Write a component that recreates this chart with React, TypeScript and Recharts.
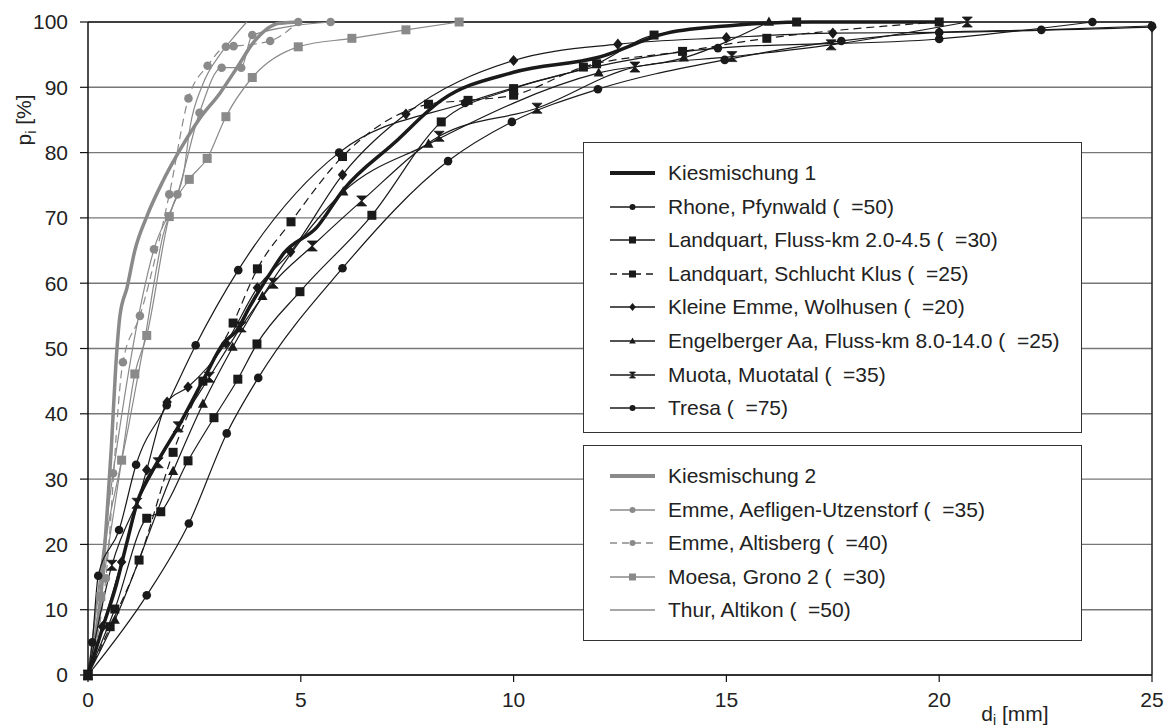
import React from 'react'
import { LineChart, Line, XAxis, YAxis, CartesianGrid, ReferenceLine, Label } from 'recharts'

const FONT = '"Liberation Sans", Arial, Helvetica, sans-serif'
const BLACK = '#1a1a1a'
const GRAY = '#8a8a8a'

const xTicks = [0, 5, 10, 15, 20, 25]
const yTicks = [0, 10, 20, 30, 40, 50, 60, 70, 80, 90, 100]

// Kiesmischung 1 group: [d_i mm, p_i %]
const kies1 = [[0, 0], [0.35, 7.4], [0.63, 13], [0.91, 20.2], [1.15, 26.3], [1.62, 32.5], [2.12, 38], [2.71, 45.2], [3.18, 50.8], [3.5, 52.8], [3.8, 56.4], [4.28, 61.5], [4.6, 64.6], [5.38, 68.6], [6, 74.3], [7.2, 81.5], [8.3, 88], [10, 92.3], [12, 94.6], [13.6, 98.3], [15.2, 99.5], [17, 100], [20, 100]]
const rhone = [[0, 0], [0.1, 5], [0.24, 15.2], [0.73, 22.2], [1.13, 32.2], [1.85, 41.3], [2.53, 50.5], [3.53, 62], [5.9, 80], [8.86, 87.6], [14.8, 96], [20, 97.4], [23.6, 100]]
const landquartKm = [[0, 0], [0.63, 10.1], [1.38, 24], [1.71, 25], [2.35, 32.8], [2.96, 39.4], [3.52, 45.3], [3.97, 50.7], [4.98, 58.7], [6.67, 70.4], [8.3, 84.7], [10, 89.8], [11.95, 93.6], [13.3, 98], [16.65, 100]]
const landquartKlus = [[0, 0], [0.52, 7.4], [1.2, 17.6], [2.0, 34.1], [2.7, 45], [3.41, 53.9], [3.98, 62.2], [4.77, 69.4], [5.98, 79.4], [8.0, 87.4], [8.93, 88], [10, 88.8], [11.64, 93.1], [13.97, 95.5], [15.95, 97.5], [20, 100]]
const kleineEmme = [[0, 0], [0.34, 7.4], [0.79, 17.3], [1.38, 31.4], [1.86, 41.8], [2.35, 44.1], [3.24, 50.8], [3.98, 59.3], [4.76, 64.8], [5.98, 76.6], [7.47, 85.9], [10, 94.1], [12.45, 96.6], [15, 97.6], [17.5, 98.3], [20, 98.4], [25, 99.2]]
const engelberger = [[0, 0], [0.63, 8.4], [2.0, 31.2], [2.7, 41.5], [3.4, 50.2], [4.1, 58], [6.0, 74], [8.0, 81.3], [12, 92.2], [14, 94.5], [16, 100]]
const muota = [[0, 0], [0.56, 16.8], [1.15, 26.3], [1.65, 32.5], [2.12, 38], [2.85, 45.6], [3.6, 53.3], [4.35, 60], [5.27, 65.7], [6.43, 72.6], [8.25, 82.5], [10.55, 86.8], [12.85, 93.1], [15.13, 94.7], [17.46, 96.5], [20.66, 100]]
const tresa = [[0, 0], [1.38, 12.2], [2.37, 23.2], [3.26, 37], [4.0, 45.5], [5.98, 62.3], [8.46, 78.7], [9.96, 84.7], [11.98, 89.7], [14.96, 94.2], [17.7, 97.1], [20, 98.4], [22.4, 98.8], [25, 99.4]]

// Kiesmischung 2 group
const kies2 = [[0, 0], [0.15, 5], [0.3, 12], [0.45, 25], [0.55, 35], [0.65, 47], [0.75, 55], [0.92, 59.4], [1.1, 65], [1.38, 70.2], [1.75, 75.5], [2.16, 80.4], [2.6, 85], [3.1, 89.1], [3.5, 93], [3.88, 96.8], [4.5, 99.8], [5, 100]]
const aefligen = [[0, 0], [0.59, 30.9], [1.55, 65.2], [2.1, 73.6], [2.62, 86.1], [3.14, 93], [3.6, 93], [3.86, 98], [5.7, 100]]
const altisberg = [[0, 0], [0.42, 14.8], [0.82, 47.9], [1.22, 55], [1.91, 73.6], [2.36, 88.3], [2.81, 93.3], [3.24, 96.2], [3.42, 96.3], [4.28, 97.1], [4.94, 100]]
const moesa = [[0, 0], [0.3, 12], [0.79, 32.9], [1.1, 46.1], [1.38, 52], [1.91, 70.2], [2.38, 75.9], [2.8, 79.1], [3.24, 85.5], [3.86, 91.5], [4.94, 96.2], [6.2, 97.5], [7.47, 98.8], [8.72, 100]]
const thur = [[0, 0], [0.2, 10], [0.45, 22], [0.7, 30], [0.95, 38], [1.15, 45], [1.35, 52], [1.55, 60], [1.75, 67], [2.0, 72], [2.25, 77], [2.4, 84], [2.7, 90.5], [3.1, 95], [3.4, 97.5], [3.73, 100]]

type Shape = 'none' | 'circle' | 'square' | 'diamond' | 'triangle' | 'hourglass'
type Series = { name: string; pts: number[][]; color: string; width: number; shape: Shape; dash?: string }

const group1: Series[] = [
  { name: 'Kiesmischung 1', pts: kies1, color: BLACK, width: 3.5, shape: 'none' },
  { name: 'Rhone, Pfynwald ( \u00a0=50)', pts: rhone, color: BLACK, width: 1.2, shape: 'circle' },
  { name: 'Landquart, Fluss-km 2.0-4.5 ( \u00a0=30)', pts: landquartKm, color: BLACK, width: 1.2, shape: 'square' },
  { name: 'Landquart, Schlucht Klus ( \u00a0=25)', pts: landquartKlus, color: BLACK, width: 1.2, shape: 'square', dash: '8 5' },
  { name: 'Kleine Emme, Wolhusen ( \u00a0=20)', pts: kleineEmme, color: BLACK, width: 1.2, shape: 'diamond' },
  { name: 'Engelberger Aa, Fluss-km 8.0-14.0 ( \u00a0=25)', pts: engelberger, color: BLACK, width: 1.2, shape: 'triangle' },
  { name: 'Muota, Muotatal ( \u00a0=35)', pts: muota, color: BLACK, width: 1.2, shape: 'hourglass' },
  { name: 'Tresa ( \u00a0=75)', pts: tresa, color: BLACK, width: 1.2, shape: 'circle' },
]

const group2: Series[] = [
  { name: 'Kiesmischung 2', pts: kies2, color: GRAY, width: 3.5, shape: 'none' },
  { name: 'Emme, Aefligen-Utzenstorf ( \u00a0=35)', pts: aefligen, color: GRAY, width: 1.2, shape: 'circle' },
  { name: 'Emme, Altisberg ( \u00a0=40)', pts: altisberg, color: GRAY, width: 1.2, shape: 'circle', dash: '8 5' },
  { name: 'Moesa, Grono 2 ( \u00a0=30)', pts: moesa, color: GRAY, width: 1.2, shape: 'square' },
  { name: 'Thur, Altikon ( \u00a0=50)', pts: thur, color: GRAY, width: 1.2, shape: 'none' },
]

function Mark({ cx, cy, shape, color, s }: { cx: number; cy: number; shape: Shape; color: string; s: number }) {
  if (shape === 'circle') return <circle cx={cx} cy={cy} r={s} fill={color} />
  if (shape === 'square') return <rect x={cx - s} y={cy - s} width={2 * s} height={2 * s} fill={color} />
  if (shape === 'diamond')
    return <path d={`M${cx},${cy - s * 1.3}L${cx + s * 1.1},${cy}L${cx},${cy + s * 1.3}L${cx - s * 1.1},${cy}Z`} fill={color} />
  if (shape === 'triangle')
    return <path d={`M${cx},${cy - s * 1.2}L${cx + s * 1.1},${cy + s * 0.8}L${cx - s * 1.1},${cy + s * 0.8}Z`} fill={color} />
  if (shape === 'hourglass')
    return (
      <path
        d={`M${cx - s},${cy - s}L${cx + s},${cy - s}L${cx},${cy}Z M${cx - s},${cy + s}L${cx + s},${cy + s}L${cx},${cy}Z`}
        fill={color}
        stroke={color}
        strokeWidth={0.8}
      />
    )
  return null
}

const toData = (pts: number[][]) => pts.map(([x, y]) => ({ x, y }))

const markSize: Record<Shape, number> = { none: 0, circle: 4.3, square: 4.5, diamond: 4.3, triangle: 4.6, hourglass: 5 }

function renderSeries(s: Series) {
  return (
    <Line
      key={s.name}
      data={toData(s.pts)}
      dataKey="y"
      name={s.name}
      type="monotone"
      stroke={s.color}
      strokeWidth={s.width}
      strokeDasharray={s.dash}
      isAnimationActive={false}
      activeDot={false}
      dot={
        s.shape === 'none'
          ? false
          : (p: any) => (
              <g key={`${s.name}-${p.index}`}>
                <Mark cx={p.cx} cy={p.cy} shape={s.shape} color={s.color} s={markSize[s.shape]} />
              </g>
            )
      }
    />
  )
}

function LegendBox({ items, top, height }: { items: Series[]; top: number; height: number }) {
  return (
    <div
      style={{
        position: 'absolute',
        left: 583,
        top,
        width: 499,
        height,
        border: '1.5px solid #333',
        background: '#fff',
        boxSizing: 'border-box',
      }}
    >
      {items.map((s, i) => (
        <div
          key={s.name}
          style={{ position: 'absolute', left: 0, top: 30 - 17 + i * 33.6, height: 34, display: 'flex', alignItems: 'center' }}
        >
          <svg width={84} height={34} style={{ display: 'block' }}>
            <line
              x1={26}
              x2={71}
              y1={17}
              y2={17}
              stroke={s.color}
              strokeWidth={s.width === 3.5 ? 4 : 1.3}
              strokeDasharray={s.dash ? '7 5' : undefined}
            />
            <Mark cx={48.5} cy={17} shape={s.shape} color={s.color} s={s.shape === 'square' ? 3.5 : 3} />
          </svg>
          <span style={{ fontFamily: FONT, fontSize: 21, color: '#222', whiteSpace: 'pre' }}>{s.name}</span>
        </div>
      ))}
    </div>
  )
}

const yTitle = () => (
  <text x={31} y={120} transform="rotate(-90 31 120)" textAnchor="middle" fontSize={21} fontFamily={FONT} fill="#222">
    p<tspan fontSize={14} dy={5}>i</tspan>
    <tspan dy={-5}> [%]</tspan>
  </text>
)

const xTitle = () => (
  <text x={1015} y={721} textAnchor="middle" fontSize={21} fontFamily={FONT} fill="#222">
    d<tspan fontSize={14} dy={4}>i</tspan>
    <tspan dy={-4}> [mm]</tspan>
  </text>
)

export default function App() {
  const tick = { fontSize: 21, fill: '#222', fontFamily: FONT }
  return (
    <div style={{ position: 'absolute', left: 0, top: 0, width: 1169, height: 728, background: '#fff' }}>
      <LineChart width={1169} height={728} margin={{ top: 22, right: 17, bottom: 13, left: 28 }}>
        <CartesianGrid vertical={false} stroke="#777" strokeWidth={1.4} />
        <XAxis
          dataKey="x"
          type="number"
          domain={[0, 25]}
          ticks={xTicks}
          interval={0}
          height={40}
          tickSize={7}
          tickMargin={10}
          tick={tick}
          axisLine={{ stroke: '#111', strokeWidth: 1.5 }}
          tickLine={{ stroke: '#111', strokeWidth: 1.2 }}
          allowDuplicatedCategory={false}
        >
          <Label content={xTitle} />
        </XAxis>
        <YAxis
          type="number"
          domain={[0, 100]}
          ticks={yTicks}
          interval={0}
          width={60}
          tickSize={8}
          tickMargin={12}
          tick={tick}
          axisLine={{ stroke: '#111', strokeWidth: 1.5 }}
          tickLine={{ stroke: '#111', strokeWidth: 1.2 }}
        >
          <Label content={yTitle} />
        </YAxis>
        <ReferenceLine y={100} stroke="#222" strokeWidth={1.5} />
        <ReferenceLine x={25} stroke="#222" strokeWidth={1.5} />
        {group2.map(renderSeries)}
        {group1.map(renderSeries)}
      </LineChart>
      <LegendBox items={group1} top={142} height={291} />
      <LegendBox items={group2} top={445} height={196} />
    </div>
  )
}
